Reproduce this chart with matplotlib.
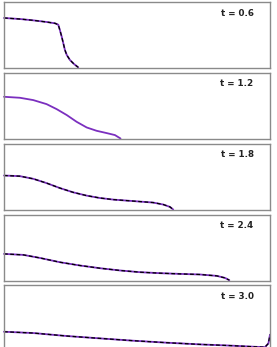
import numpy as np
from matplotlib import pyplot as plt

# free-surface profiles at each time (x and height as fractions of the tank)
labels = ["t = 0.6", "t = 1.2", "t = 1.8", "t = 2.4", "t = 3.0"]

x_06 = [0.0, 0.06, 0.11, 0.16, 0.192, 0.204, 0.21, 0.217, 0.223, 0.229, 0.236, 0.248, 0.263, 0.279]
y_06 = [0.758, 0.742, 0.722, 0.697, 0.677, 0.656, 0.576, 0.474, 0.374, 0.273, 0.197, 0.121, 0.061, 0.01]

x_12 = [0.0, 0.06, 0.11, 0.16, 0.198, 0.236, 0.273, 0.311, 0.348, 0.386, 0.417, 0.432, 0.438]
y_12 = [0.632, 0.617, 0.582, 0.521, 0.445, 0.355, 0.253, 0.167, 0.117, 0.082, 0.052, 0.015, 0.0]

x_18 = [0.0, 0.06, 0.11, 0.16, 0.21, 0.26, 0.311, 0.361, 0.411, 0.461, 0.511, 0.561, 0.599, 0.624, 0.636]
y_18 = [0.515, 0.505, 0.465, 0.40, 0.325, 0.26, 0.21, 0.174, 0.15, 0.135, 0.12, 0.105, 0.075, 0.039, 0.0]

x_24 = [0.0, 0.073, 0.135, 0.21, 0.286, 0.361, 0.436, 0.511, 0.586, 0.662, 0.737, 0.80, 0.831, 0.847]
y_24 = [0.403, 0.388, 0.342, 0.277, 0.227, 0.186, 0.152, 0.126, 0.111, 0.10, 0.091, 0.07, 0.039, 0.005]

x_30 = [0.0, 0.11, 0.236, 0.361, 0.486, 0.611, 0.737, 0.862, 0.937, 0.981, 0.994, 1.0]
y_30 = [0.292, 0.272, 0.227, 0.191, 0.156, 0.126, 0.10, 0.08, 0.065, 0.058, 0.115, 0.247]

profiles = [(x_06, y_06), (x_12, y_12), (x_18, y_18), (x_24, y_24), (x_30, y_30)]
has_dashed = [True, False, True, True, True]

fig = plt.figure(figsize=(2.77, 3.47), dpi=100)
W, H = 277, 347
left, right = 4, 270
tops = [2, 72.5, 143.5, 214.5, 285]
height = 66

for i, (xs, ys) in enumerate(profiles):
    top = tops[i]
    ax = fig.add_axes([left / W, 1 - (top + height) / H, (right - left) / W, height / H])
    ax.plot(xs, ys, color="#7b2fbf", lw=1.3, solid_capstyle="round", clip_on=False)
    if has_dashed[i]:
        ax.plot(xs, ys, color="black", lw=0.9, ls=(0, (3, 2)), clip_on=False)
    ax.set_xlim(0, 1)
    ax.set_ylim(0, 1)
    ax.set_xticks([])
    ax.set_yticks([])
    for s in ax.spines.values():
        s.set_color("#8a8a8a")
        s.set_linewidth(1.0)
    ax.text(0.876, 0.83, labels[i], transform=ax.transAxes, ha="center", va="center",
            fontsize=6.3, fontweight="bold", color="#222222")

fig.savefig("out.png", dpi=100)
